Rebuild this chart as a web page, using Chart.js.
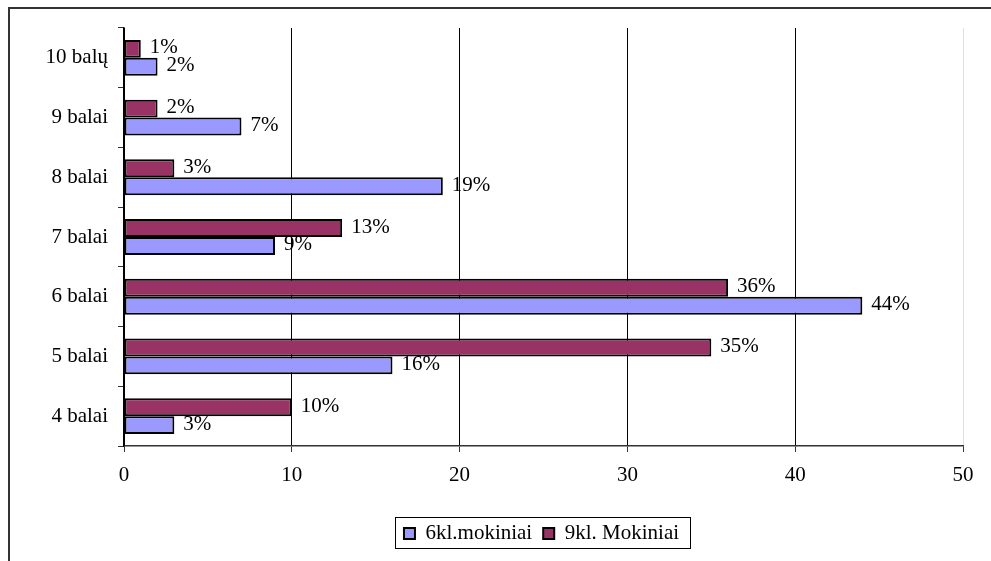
<!DOCTYPE html>
<html>
<head>
<meta charset="utf-8">
<script src="https://cdn.jsdelivr.net/npm/chart.js@4"></script>
<style>
  html, body { margin: 0; padding: 0; background: #fff; }
  #wrap { width: 991px; height: 561px; position: relative; }
</style>
</head>
<body>
<div id="wrap"><canvas id="chart"></canvas></div>
<script>
// Kategorijos (iš apačios į viršų) ir reikšmės
const categories = ['4 balai', '5 balai', '6 balai', '7 balai', '8 balai', '9 balai', '10 balų'];
const mokiniai6 = [3, 16, 44, 9, 19, 7, 2];
const mokiniai9 = [10, 35, 36, 13, 3, 2, 1];
const xTicks = [0, 10, 20, 30, 40, 50];

const serif = '"Liberation Serif", "Times New Roman", serif';

// Rėmelis aplink diagramą (viršus ir kairė)
const framePlugin = {
  id: 'frame',
  beforeDraw(chart) {
    const ctx = chart.ctx;
    ctx.save();
    ctx.strokeStyle = '#333';
    ctx.lineWidth = 2;
    ctx.beginPath();
    ctx.moveTo(9, 561);
    ctx.lineTo(9, 8);
    ctx.lineTo(991, 8);
    ctx.stroke();
    ctx.restore();
  }
};

// Legenda šiek tiek pastumta į dešinę, kaip originale
const legendShiftPlugin = {
  id: 'legendShift',
  afterLayout(chart) {
    if (chart.legend) {
      chart.legend.left += 60;
      chart.legend.right += 60;
    }
  }
};

// Procentų etiketės prie stulpelių
const labelsPlugin = {
  id: 'barLabels',
  afterDatasetsDraw(chart) {
    const ctx = chart.ctx;
    ctx.save();
    ctx.font = '21px ' + serif;
    ctx.fillStyle = '#000';
    ctx.textBaseline = 'middle';
    ctx.textAlign = 'left';
    chart.data.datasets.forEach((ds, i) => {
      chart.getDatasetMeta(i).data.forEach((bar, j) => {
        ctx.fillText(ds.data[j] + '%', bar.x + 9, bar.y - 1);
      });
    });
    ctx.restore();
  }
};

// Legendos rėmelis
const legendBoxPlugin = {
  id: 'legendBox',
  afterDraw(chart) {
    const boxes = chart.legend && chart.legend.legendHitBoxes;
    if (!boxes || !boxes.length) return;
    let l = Infinity, t = Infinity, r = -Infinity, b = -Infinity;
    boxes.forEach(h => {
      l = Math.min(l, h.left); t = Math.min(t, h.top);
      r = Math.max(r, h.left + h.width); b = Math.max(b, h.top + h.height);
    });
    const ctx = chart.ctx;
    ctx.save();
    ctx.strokeStyle = '#000';
    ctx.lineWidth = 1;
    ctx.strokeRect(Math.round(l - 9) + 0.5, Math.round(t - 6) + 0.5, Math.round(r - l + 20), Math.round(b - t + 10));
    ctx.restore();
  }
};

new Chart(document.getElementById('chart'), {
  type: 'bar',
  data: {
    labels: categories,
    datasets: [{
      label: '9kl. Mokiniai',
      data: mokiniai9,
      backgroundColor: '#993366',
      borderColor: '#000',
      borderWidth: 2,
      borderSkipped: false,
      categoryPercentage: 0.6,
      barPercentage: 1.0
    }, {
      label: '6kl.mokiniai',
      data: mokiniai6,
      backgroundColor: '#9999FF',
      borderColor: '#000',
      borderWidth: 2,
      borderSkipped: false,
      categoryPercentage: 0.6,
      barPercentage: 1.0
    }]
  },
  options: {
    indexAxis: 'y',
    responsive: true,
    maintainAspectRatio: false,
    animation: false,
    layout: { padding: { left: 0, right: 28, top: 28, bottom: 7 } },
    plugins: {
      legend: {
        position: 'bottom',
        labels: {
          font: { family: serif, size: 21 },
          color: '#000',
          boxWidth: 11,
          boxHeight: 11,
          padding: 11,
          sort: (a, b) => b.datasetIndex - a.datasetIndex
        }
      },
      tooltip: { enabled: false }
    },
    scales: {
      x: {
        min: 0,
        max: 50,
        afterBuildTicks(scale) {
          scale.ticks = xTicks.map(v => ({ value: v }));
        },
        afterFit(scale) { scale.height = 66; },
        border: { color: '#333', width: 1.5 },
        grid: {
          color: ctx => (ctx.tick && ctx.tick.value === 50) ? '#e0e0e0' : '#000',
          lineWidth: 1,
          tickColor: '#333',
          tickLength: 6
        },
        ticks: {
          font: { family: serif, size: 21 },
          color: '#000',
          padding: 11
        }
      },
      y: {
        reverse: true,
        afterFit(scale) { scale.width = 124; },
        border: { color: '#000', width: 1.5 },
        grid: {
          drawOnChartArea: false,
          offset: true,
          tickColor: '#333',
          tickLength: 6
        },
        ticks: {
          font: { family: serif, size: 21 },
          color: '#000',
          padding: 10
        }
      }
    }
  },
  plugins: [framePlugin, legendShiftPlugin, labelsPlugin, legendBoxPlugin]
});
</script>
</body>
</html>
